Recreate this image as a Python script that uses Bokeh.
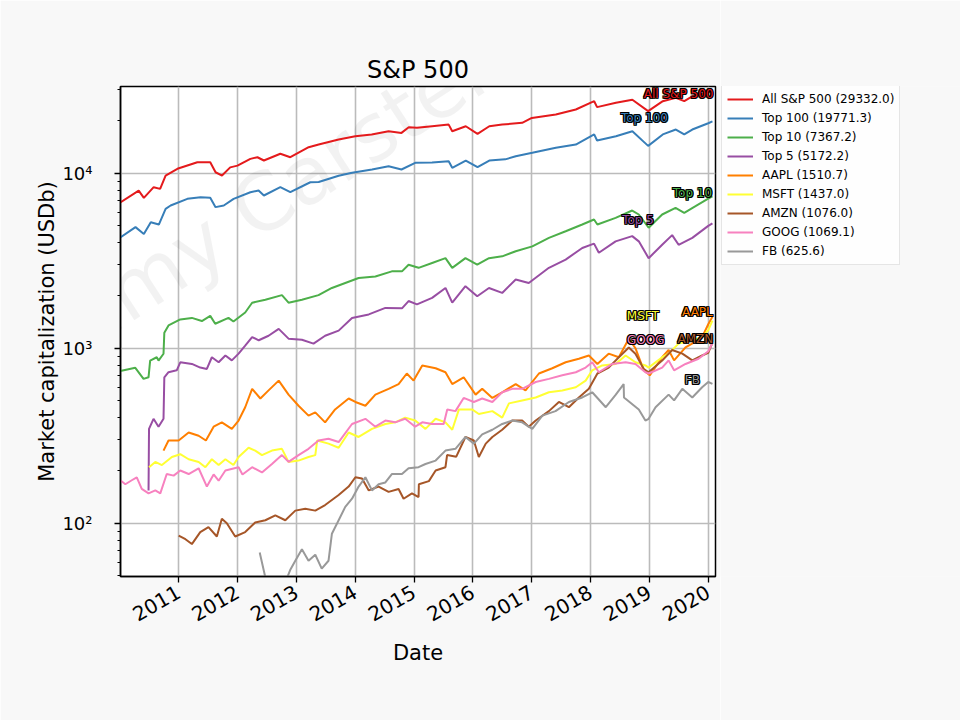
import pandas as pd
from math import pi, radians
from bokeh.plotting import figure
from bokeh.layouts import row
from bokeh.models import (Range1d, FixedTicker, DatetimeTickFormatter, Legend,
                          LegendItem, Label)
from bokeh.embed import file_html
from bokeh.resources import INLINE

# ---------------- data ----------------
sp500 = [("2010-01-04", 6800), ("2010-04-28", 7960), ("2010-05-30", 7230), ("2010-07-30", 8320),
         ("2010-09-08", 8140), ("2010-10-12", 9700), ("2010-12-24", 10600), ("2011-04-27", 11560),
         ("2011-07-16", 11560), ("2011-08-18", 10130), ("2011-09-27", 9700), ("2011-11-17", 10800),
         ("2012-01-01", 11050), ("2012-03-21", 12080), ("2012-05-04", 12340), ("2012-06-13", 11820),
         ("2012-09-23", 12920), ("2012-11-24", 12340), ("2013-03-18", 14080), ("2013-05-19", 14580),
         ("2013-09-20", 15600), ("2014-01-01", 16270), ("2014-04-13", 16660), ("2014-07-27", 17370),
         ("2014-10-15", 17000), ("2014-11-29", 18330), ("2015-01-19", 18200), ("2015-04-23", 18560),
         ("2015-08-04", 18960), ("2015-08-26", 17370), ("2015-11-18", 18560), ("2016-01-30", 16800),
         ("2016-04-12", 18560), ("2016-07-01", 18960), ("2016-11-02", 19400), ("2017-01-01", 20700),
         ("2017-05-30", 21650), ("2017-10-01", 23130), ("2018-01-23", 25800), ("2018-02-10", 23860),
         ("2018-06-07", 25260), ("2018-09-17", 26300), ("2018-12-24", 22620), ("2019-03-25", 25800),
         ("2019-06-14", 26980), ("2019-08-05", 25800), ("2019-09-24", 27520), ("2020-01-01", 28900),
         ("2020-01-27", 29332.0)]

top100 = [("2010-01-04", 4300), ("2010-04-08", 4920), ("2010-05-30", 4500), ("2010-07-12", 5250),
          ("2010-08-31", 5090), ("2010-10-12", 6260), ("2010-11-12", 6540), ("2011-02-24", 7140),
          ("2011-05-17", 7290), ("2011-07-16", 7230), ("2011-08-18", 6400), ("2011-10-08", 6540),
          ("2011-12-08", 7140), ("2012-03-21", 7790), ("2012-05-11", 7960), ("2012-06-13", 7460),
          ("2012-09-23", 8320), ("2012-11-24", 7790), ("2013-03-28", 8880), ("2013-05-19", 8900),
          ("2013-09-20", 9670), ("2013-12-12", 10050), ("2014-04-15", 10500), ("2014-07-27", 10960),
          ("2014-10-15", 10500), ("2015-01-08", 11470), ("2015-04-23", 11500), ("2015-08-04", 11720),
          ("2015-08-26", 10740), ("2015-11-18", 11820), ("2016-01-30", 10820), ("2016-04-12", 11820),
          ("2016-07-20", 12000), ("2016-09-23", 12510), ("2017-01-04", 13080), ("2017-05-30", 13970),
          ("2017-10-01", 14580), ("2018-01-23", 16660), ("2018-02-10", 15390), ("2018-06-07", 16270),
          ("2018-09-17", 17370), ("2018-12-24", 14330), ("2019-03-25", 16660), ("2019-06-14", 17770),
          ("2019-08-05", 16660), ("2019-09-24", 17770), ("2020-01-01", 19300), ("2020-01-27", 19771.3)]

top10 = [("2010-01-04", 740), ("2010-04-07", 773), ("2010-05-28", 668), ("2010-06-28", 682),
         ("2010-07-08", 850), ("2010-08-18", 888), ("2010-08-29", 850), ("2010-09-29", 930),
         ("2010-10-04", 1225), ("2010-10-30", 1350), ("2011-01-11", 1460), ("2011-03-24", 1490),
         ("2011-05-25", 1430), ("2011-07-16", 1530), ("2011-08-16", 1380), ("2011-11-06", 1490),
         ("2011-12-07", 1420), ("2012-02-18", 1600), ("2012-04-01", 1820), ("2012-06-22", 1890),
         ("2012-10-03", 2010), ("2012-11-13", 1820), ("2013-02-04", 1890), ("2013-05-18", 2010),
         ("2013-08-09", 2210), ("2013-10-31", 2360), ("2014-01-22", 2520), ("2014-05-06", 2570),
         ("2014-08-16", 2750), ("2014-10-18", 2750), ("2014-11-28", 3000), ("2015-01-29", 2880),
         ("2015-04-23", 3070), ("2015-07-15", 3270), ("2015-08-26", 2880), ("2015-11-16", 3270),
         ("2016-01-28", 3000), ("2016-04-10", 3270), ("2016-07-01", 3350), ("2016-09-23", 3580),
         ("2017-01-04", 3820), ("2017-04-17", 4270), ("2017-07-30", 4660), ("2017-11-10", 5090),
         ("2018-01-22", 5440), ("2018-02-12", 5090), ("2018-06-05", 5560), ("2018-09-16", 6120),
         ("2018-10-27", 5810), ("2018-12-27", 4880), ("2019-03-21", 5810), ("2019-06-12", 6340),
         ("2019-08-05", 5940), ("2019-10-14", 6480), ("2020-01-01", 7150), ("2020-01-27", 7367.2)]

top5 = [("2010-06-28", 154), ("2010-07-01", 346), ("2010-07-29", 395), ("2010-08-29", 356),
        ("2010-09-29", 395), ("2010-10-04", 682), ("2010-10-30", 729), ("2010-12-20", 748),
        ("2011-01-11", 831), ("2011-03-24", 813), ("2011-05-15", 775), ("2011-06-25", 761),
        ("2011-07-26", 888), ("2011-09-06", 831), ("2011-10-18", 909), ("2011-11-27", 852),
        ("2012-01-08", 931), ("2012-02-18", 1034), ("2012-04-01", 1158), ("2012-05-12", 1110),
        ("2012-07-12", 1178), ("2012-09-13", 1290), ("2012-11-13", 1134), ("2013-02-04", 1118),
        ("2013-04-17", 1062), ("2013-06-28", 1178), ("2013-09-20", 1260), ("2013-12-12", 1490),
        ("2014-03-26", 1560), ("2014-07-07", 1700), ("2014-10-18", 1690), ("2014-11-28", 1860),
        ("2015-01-19", 1780), ("2015-04-23", 1940), ("2015-07-15", 2210), ("2015-08-26", 1820),
        ("2015-11-16", 2260), ("2016-01-28", 1980), ("2016-04-10", 2210), ("2016-07-01", 2070),
        ("2016-09-23", 2470), ("2016-12-13", 2360), ("2017-04-17", 2880), ("2017-07-30", 3210),
        ("2017-11-10", 3740), ("2018-01-22", 3960), ("2018-02-21", 3510), ("2018-06-05", 4080),
        ("2018-09-16", 4370), ("2018-10-27", 4080), ("2018-12-27", 3270), ("2019-03-21", 3900),
        ("2019-05-22", 4430), ("2019-07-01", 3900), ("2019-09-24", 4270), ("2020-01-01", 5000),
        ("2020-01-27", 5172.2)]

aapl = [("2010-09-29", 260), ("2010-10-30", 297), ("2011-01-01", 297), ("2011-03-04", 330),
        ("2011-05-05", 316), ("2011-06-19", 297), ("2011-08-06", 356), ("2011-09-26", 377),
        ("2011-11-27", 346), ("2012-01-08", 386), ("2012-02-18", 460), ("2012-04-01", 586),
        ("2012-05-22", 516), ("2012-07-12", 574), ("2012-09-13", 653), ("2012-11-13", 543),
        ("2013-01-14", 469), ("2013-03-17", 412), ("2013-04-28", 430), ("2013-06-28", 377),
        ("2013-08-29", 447), ("2013-11-21", 516), ("2014-01-02", 493), ("2014-03-05", 469),
        ("2014-05-06", 543), ("2014-07-27", 586), ("2014-09-27", 624), ("2014-11-17", 717),
        ("2014-12-29", 653), ("2015-02-21", 797), ("2015-05-15", 768), ("2015-07-15", 729),
        ("2015-08-26", 624), ("2015-11-05", 682), ("2016-01-18", 543), ("2016-02-28", 586),
        ("2016-05-01", 520), ("2016-07-01", 560), ("2016-09-23", 624), ("2016-11-23", 574),
        ("2017-02-14", 717), ("2017-05-08", 768), ("2017-07-30", 831), ("2017-10-20", 870),
        ("2017-12-21", 909), ("2018-02-12", 813), ("2018-04-23", 931), ("2018-06-25", 888),
        ("2018-08-26", 1134), ("2018-10-06", 1000), ("2018-11-27", 748), ("2019-01-03", 700),
        ("2019-03-21", 888), ("2019-04-30", 977), ("2019-06-03", 852), ("2019-08-13", 1010),
        ("2019-10-14", 1090), ("2019-11-24", 1158), ("2020-01-01", 1370), ("2020-01-27", 1510.7)]

msft = [("2010-07-01", 209), ("2010-08-09", 224), ("2010-09-19", 215), ("2010-11-20", 239),
        ("2011-01-11", 248), ("2011-03-04", 232), ("2011-05-05", 224), ("2011-06-16", 209),
        ("2011-07-26", 232), ("2011-09-06", 215), ("2011-10-18", 232), ("2011-12-07", 215),
        ("2012-01-08", 239), ("2012-03-10", 270), ("2012-04-20", 260), ("2012-06-01", 245),
        ("2012-08-02", 260), ("2012-10-03", 266), ("2012-11-13", 224), ("2013-01-14", 228),
        ("2013-03-17", 239), ("2013-04-28", 245), ("2013-05-10", 297), ("2013-07-19", 285),
        ("2013-09-20", 270), ("2013-11-21", 330), ("2014-01-22", 311), ("2014-04-15", 346),
        ("2014-07-07", 369), ("2014-09-06", 377), ("2014-11-07", 401), ("2015-01-08", 386),
        ("2015-03-13", 346), ("2015-05-15", 395), ("2015-07-15", 377), ("2015-08-26", 342),
        ("2015-10-06", 446), ("2015-12-27", 447), ("2016-02-07", 421), ("2016-05-01", 437),
        ("2016-07-01", 401), ("2016-08-12", 484), ("2016-11-02", 503), ("2017-01-25", 523),
        ("2017-04-17", 560), ("2017-07-09", 574), ("2017-10-01", 598), ("2017-12-01", 653),
        ("2018-01-11", 748), ("2018-03-14", 797), ("2018-06-05", 813), ("2018-08-06", 909),
        ("2018-10-06", 831), ("2018-12-07", 797), ("2018-12-27", 775), ("2019-03-21", 888),
        ("2019-04-30", 931), ("2019-07-01", 1062), ("2019-09-24", 1110), ("2019-11-24", 1158),
        ("2020-01-01", 1270), ("2020-01-27", 1437.0)]

amzn = [("2011-01-01", 85), ("2011-02-12", 81), ("2011-03-24", 76), ("2011-05-15", 89),
        ("2011-07-05", 95), ("2011-08-26", 84), ("2011-09-26", 106), ("2011-10-27", 100),
        ("2011-12-18", 84), ("2012-02-18", 89), ("2012-04-20", 101), ("2012-06-22", 104),
        ("2012-08-23", 111), ("2012-10-24", 104), ("2012-12-25", 118), ("2013-02-25", 121),
        ("2013-04-28", 118), ("2013-06-28", 127), ("2013-09-20", 145), ("2013-11-21", 162),
        ("2014-01-02", 183), ("2014-02-12", 180), ("2014-03-26", 154), ("2014-05-26", 162),
        ("2014-07-27", 151), ("2014-09-27", 157), ("2014-10-28", 138), ("2014-12-19", 148),
        ("2015-01-29", 141), ("2015-01-31", 167), ("2015-04-03", 174), ("2015-05-15", 200),
        ("2015-07-15", 209), ("2015-07-25", 245), ("2015-09-20", 240), ("2015-11-16", 311),
        ("2016-01-07", 297), ("2016-02-07", 239), ("2016-03-21", 285), ("2016-05-01", 311),
        ("2016-07-01", 342), ("2016-09-02", 386), ("2016-11-02", 386), ("2016-12-13", 356),
        ("2017-01-25", 386), ("2017-04-17", 437), ("2017-06-18", 493), ("2017-08-19", 460),
        ("2017-10-20", 523), ("2017-12-21", 586), ("2018-02-12", 717), ("2018-04-23", 775),
        ("2018-06-25", 888), ("2018-08-26", 1010), ("2018-10-06", 931), ("2018-11-27", 761),
        ("2018-12-27", 729), ("2019-03-21", 850), ("2019-05-22", 977), ("2019-07-24", 931),
        ("2019-09-24", 852), ("2019-11-24", 909), ("2020-01-01", 940), ("2020-01-27", 1076.0)]

goog = [("2010-01-04", 176), ("2010-02-04", 167), ("2010-03-16", 176), ("2010-04-16", 183),
        ("2010-05-17", 157), ("2010-06-28", 148), ("2010-08-09", 154), ("2010-09-09", 148),
        ("2010-10-19", 191), ("2010-12-01", 187), ("2011-01-11", 200), ("2011-03-04", 191),
        ("2011-05-05", 206), ("2011-06-25", 162), ("2011-08-06", 190), ("2011-09-06", 175),
        ("2011-10-18", 200), ("2012-01-08", 209), ("2012-02-01", 190), ("2012-04-01", 209),
        ("2012-06-01", 195), ("2012-08-02", 218), ("2012-10-03", 245), ("2012-11-13", 224),
        ("2013-01-14", 245), ("2013-03-17", 266), ("2013-05-18", 297), ("2013-07-19", 304),
        ("2013-09-20", 291), ("2013-12-12", 369), ("2014-03-05", 395), ("2014-05-06", 356),
        ("2014-07-07", 386), ("2014-09-06", 377), ("2014-11-07", 395), ("2015-01-08", 356),
        ("2015-02-21", 377), ("2015-04-23", 369), ("2015-07-04", 369), ("2015-07-26", 447),
        ("2015-09-15", 437), ("2015-11-05", 520), ("2016-01-07", 493), ("2016-02-28", 516),
        ("2016-05-01", 493), ("2016-07-01", 560), ("2016-09-02", 586), ("2016-11-02", 586),
        ("2017-01-25", 641), ("2017-04-17", 668), ("2017-07-09", 700), ("2017-10-01", 729),
        ("2017-12-01", 775), ("2018-01-11", 831), ("2018-02-21", 729), ("2018-05-15", 813),
        ("2018-08-06", 831), ("2018-10-06", 813), ("2018-12-07", 729), ("2018-12-27", 717),
        ("2019-03-21", 775), ("2019-04-30", 852), ("2019-06-03", 748), ("2019-08-13", 813),
        ("2019-11-02", 870), ("2020-01-01", 960), ("2020-01-27", 1069.1)]

fb = [("2012-05-18", 68), ("2012-06-22", 49), ("2012-08-01", 42), ("2012-09-04", 39),
      ("2012-10-20", 45), ("2012-11-23", 54), ("2012-12-25", 61), ("2013-02-04", 71),
      ("2013-03-17", 61), ("2013-04-28", 66), ("2013-06-07", 55), ("2013-07-19", 61),
      ("2013-08-09", 87), ("2013-09-20", 104), ("2013-10-31", 124), ("2013-12-12", 138),
      ("2014-01-22", 162), ("2014-03-05", 183), ("2014-04-15", 154), ("2014-05-26", 167),
      ("2014-07-07", 171), ("2014-08-16", 191), ("2014-10-18", 191), ("2014-11-28", 206),
      ("2015-01-29", 209), ("2015-03-13", 218), ("2015-05-15", 228), ("2015-07-15", 260),
      ("2015-09-15", 266), ("2015-11-16", 311), ("2016-01-07", 285), ("2016-02-28", 322),
      ("2016-05-01", 342), ("2016-07-01", 369), ("2016-09-02", 386), ("2016-11-02", 377),
      ("2017-01-04", 346), ("2017-03-07", 412), ("2017-05-28", 437), ("2017-08-19", 493),
      ("2017-11-10", 523), ("2018-01-11", 560), ("2018-04-05", 460), ("2018-06-05", 541),
      ("2018-07-25", 624), ("2018-07-27", 523), ("2018-10-27", 447), ("2018-12-07", 386),
      ("2018-12-27", 395), ("2019-02-08", 460), ("2019-04-30", 543), ("2019-06-03", 503),
      ("2019-07-24", 586), ("2019-09-24", 523), ("2019-11-24", 598), ("2020-01-01", 641),
      ("2020-01-27", 625.6)]

series_names = ["All S&P 500", "Top 100", "Top 10", "Top 5", "AAPL", "MSFT", "AMZN", "GOOG", "FB"]
series_data = [sp500, top100, top10, top5, aapl, msft, amzn, goog, fb]
last_values = [29332.0, 19771.3, 7367.2, 5172.2, 1510.7, 1437.0, 1076.0, 1069.1, 625.6]
year_ticks = [2011, 2012, 2013, 2014, 2015, 2016, 2017, 2018, 2019, 2020]

# annotation anchors (date, value) for the in-plot series names
label_anchor = {"All S&P 500": ("2019-07-01", 28300), "Top 100": ("2018-12-01", 20800),
                "Top 10": ("2019-09-25", 7757), "Top 5": ("2018-10-22", 5438),
                "MSFT": ("2018-11-21", 1518), "AAPL": ("2019-10-26", 1602),
                "GOOG": ("2018-12-09", 1121), "AMZN": ("2019-10-13", 1136),
                "FB": ("2019-09-24", 662)}
watermark_text = "Tommy Carstensen, 2020"

colors = ["#e41a1c", "#377eb8", "#4daf4a", "#984ea3", "#ff7f00",
          "#ffff33", "#a65628", "#f781bf", "#999999"]
FONT = "DejaVu Sans"
BG = "#f8f8f8"


def ms(d):
    return pd.Timestamp(d).timestamp() * 1000.0


# ---------------- main chart (left 720 px of the page) ----------------
p = figure(width=720, height=720, x_axis_type="datetime", y_axis_type="log",
           x_range=Range1d(ms("2010-01-05"), ms("2020-02-15")),
           y_range=Range1d(49.6, 31300),
           output_backend="svg", toolbar_location=None,
           min_border_left=120, min_border_right=5, min_border_top=86, min_border_bottom=144,
           background_fill_color="white", border_fill_color=BG,
           title="S&P 500")

p.add_layout(Label(x=-118, y=148, x_units="screen", y_units="screen", level="underlay",
                   text=watermark_text, angle=radians(33), text_font=FONT,
                   text_font_size="80px", text_color="black", text_alpha=0.05))

p.title.text_font = FONT
p.title.text_font_size = "24px"
p.title.text_font_style = "normal"
p.title.text_color = "black"
p.title.align = "center"
p.title.standoff = 6

p.outline_line_color = "black"
p.outline_line_width = 1.5

for ax in (p.xaxis[0], p.yaxis[0]):
    ax.axis_line_color = "black"
    ax.axis_line_width = 1.5
    ax.major_tick_line_color = "black"
    ax.major_tick_line_width = 1.3
    ax.major_tick_in = 0
    ax.major_tick_out = 6
    ax.major_label_text_font = FONT
    ax.major_label_text_color = "black"
    ax.axis_label_text_font = FONT
    ax.axis_label_text_font_size = "21px"
    ax.axis_label_text_font_style = "normal"
    ax.axis_label_text_color = "black"

p.xaxis.ticker = FixedTicker(ticks=[ms(f"{y}-01-01") for y in year_ticks])
p.xaxis.formatter = DatetimeTickFormatter(years="%Y", months="%Y", days="%Y", hours="%Y",
                                          hourmin="%Y", minutes="%Y", minsec="%Y",
                                          seconds="%Y", milliseconds="%Y", microseconds="%Y")
p.xaxis.minor_tick_line_color = None
p.xaxis.major_label_orientation = pi / 6
p.xaxis.major_label_text_font_size = "20px"
p.xaxis.major_label_standoff = 8
p.xaxis.axis_label = "Date"
p.xaxis.axis_label_standoff = 10

minor = [m * 10 ** e for e in (1, 2, 3, 4) for m in range(2, 10)]
p.yaxis.ticker = FixedTicker(ticks=[100, 1000, 10000], minor_ticks=minor)
p.yaxis.major_label_overrides = {100: "10²", 1000: "10³", 10000: "10⁴"}
p.yaxis.major_label_text_font_size = "18px"
p.yaxis.minor_tick_line_color = "black"
p.yaxis.minor_tick_line_width = 1.0
p.yaxis.minor_tick_in = 0
p.yaxis.minor_tick_out = 3
p.yaxis.major_label_standoff = 22
p.yaxis.axis_label = "Market capitalization (USDb)"
p.yaxis.axis_label_standoff = 0

for g in (p.xgrid[0], p.ygrid[0]):
    g.grid_line_color = "#bbbbbb"
    g.grid_line_width = 1.6

for name, data, col in zip(series_names, series_data, colors):
    xs = pd.to_datetime([d for d, _ in data])
    ys = [v for _, v in data]
    p.line(xs, ys, line_color=col, line_width=2)

# series names with a dark outline (black copies offset by 1px, coloured text on top)
offsets = [(-1, -1), (-1, 0), (-1, 1), (0, -1), (0, 1), (1, -1), (1, 0), (1, 1)]
for name, col in zip(series_names, colors):
    d, v = label_anchor[name]
    kw = dict(x=ms(d), y=v, text=name, text_align="center", text_baseline="middle",
              text_font=FONT, text_font_size="12px")
    for dx, dy in offsets:
        p.add_layout(Label(text_color="black", x_offset=dx, y_offset=dy, **kw))
    p.add_layout(Label(text_color=col, **kw))

# ---------------- legend panel (right 240 px of the page) ----------------
q = figure(width=240, height=720, output_backend="svg", toolbar_location=None,
           x_axis_location=None, y_axis_location=None,
           x_range=Range1d(0, 1), y_range=Range1d(0, 1),
           min_border_left=0, min_border_right=0, min_border_top=0, min_border_bottom=0,
           background_fill_color=BG, border_fill_color=BG)
q.outline_line_color = None
q.grid.visible = False

items = []
for name, col, last in zip(series_names, colors, last_values):
    # single off-range point: nothing is drawn, but the legend gets a line swatch
    r = q.line(x=[-5], y=[-5], line_color=col, line_width=2)
    items.append(LegendItem(label=f"{name} ({last:.1f})", renderers=[r]))

# the row aligns this frame with the chart frame (y 86..576), so y is measured from 576
legend = Legend(items=items, location=(1, 311), orientation="vertical",
                label_text_font=FONT, label_text_font_size="12px", label_text_color="black",
                glyph_width=26, glyph_height=16, label_height=16, label_standoff=9,
                spacing=3, padding=5, margin=0,
                border_line_color="#cccccc", border_line_width=1,
                background_fill_color="white", background_fill_alpha=0.8)
q.add_layout(legend)

open("out.html", "w").write(file_html(row(p, q), INLINE))
